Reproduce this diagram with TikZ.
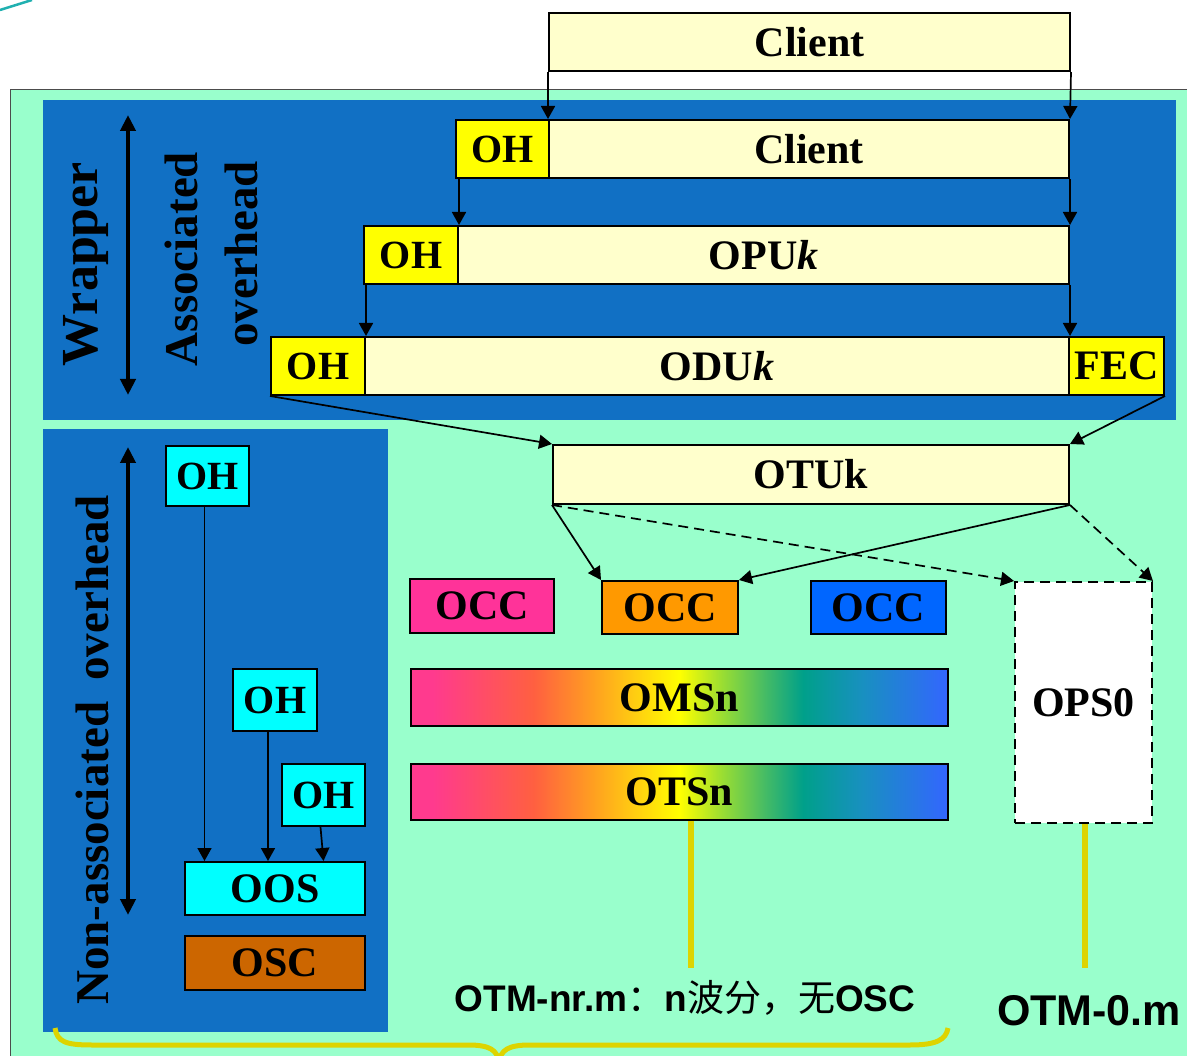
\documentclass[tikz,border=0pt]{standalone}
\usepackage{fontspec}
\setmainfont{Liberation Serif}
\newfontfamily\sansf{Liberation Sans}
\newfontfamily\cjk{Noto Sans CJK SC}
\usetikzlibrary{arrows.meta}
\definecolor{bgblue}{HTML}{1170C4}
\definecolor{bggreen}{HTML}{99FFCC}
\definecolor{lyellow}{HTML}{FFFFCC}
\definecolor{yel}{HTML}{FFFF00}
\definecolor{cyanb}{HTML}{00FFFF}
\definecolor{occpink}{HTML}{FF3399}
\definecolor{occorange}{HTML}{FF9900}
\definecolor{occblue}{HTML}{0066FF}
\definecolor{oscbrown}{HTML}{CC6600}
\definecolor{lineyel}{HTML}{DDD400}
\definecolor{tealline}{HTML}{20B0B0}
\definecolor{gA}{HTML}{FF3A8E}
\definecolor{gB}{HTML}{FF6040}
\definecolor{gC}{HTML}{FFA020}
\definecolor{gD}{HTML}{FFFF00}
\definecolor{gE}{HTML}{99DD33}
\definecolor{gF}{HTML}{44BB66}
\definecolor{gG}{HTML}{00A08A}
\definecolor{gH}{HTML}{1890C0}
\definecolor{gI}{HTML}{3366FF}
\pgfdeclarehorizontalshading{rainbow}{100bp}{color(0bp)=(gA); color(27bp)=(gA); color(36.5bp)=(gB); color(42bp)=(gC); color(50bp)=(gD); color(54bp)=(gE); color(58bp)=(gF); color(61.5bp)=(gG); color(67bp)=(gH); color(75bp)=(gI); color(100bp)=(gI)}
\tikzset{
  box/.style={draw=black, line width=2pt, inner sep=0pt, anchor=north west,
    font=\bfseries\fontsize{42}{42}\selectfont},
  ohfont/.style={font=\bfseries\fontsize{40}{40}\selectfont},
  conn/.style={line width=1.7pt, -{Triangle[length=13pt,width=14pt]}},
  dconn/.style={conn, dash pattern=on 10pt off 6pt},
  dbl/.style={line width=4pt, {Triangle[length=16pt,width=15pt]}-{Triangle[length=16pt,width=15pt]}},
  vlabel/.style={rotate=90, anchor=base, inner sep=0pt, font=\bfseries\fontsize{47}{47}\selectfont},
  yline/.style={draw=lineyel, line width=6pt},
}
\begin{document}
\begin{tikzpicture}[x=1pt,y=-1pt]
\useasboundingbox (0,0) rectangle (1187,1056);
\clip (0,0) rectangle (1187,1056);
\fill[white] (0,0) rectangle (1187,1056);
\draw[tealline, line width=2.5pt] (0,10) -- (32,0);
% backgrounds
\draw[fill=bggreen, draw=black!70, line width=1pt] (10,90) rectangle (1200,1070);
\fill[bgblue] (43,100) rectangle (1176,420);
\fill[bgblue] (43,429) rectangle (388,1032);
% wrapper rows
\node[box, fill=lyellow, minimum width=521pt, minimum height=58pt] (client0) at (548,12) {Client};
\node[box, fill=yel, ohfont, minimum width=93pt, minimum height=58pt] (oh1) at (455,119) {OH};
\node[box, fill=lyellow, minimum width=520pt, minimum height=58pt] (client1) at (548,119) {Client};
\node[box, fill=yel, ohfont, minimum width=94pt, minimum height=58pt] (oh2) at (363,225) {OH};
\node[box, fill=lyellow, minimum width=611pt, minimum height=58pt] (opu) at (457,225) {OPU\textit{k}};
\node[box, fill=yel, ohfont, minimum width=94pt, minimum height=58pt] (oh3) at (270,336) {OH};
\node[box, fill=lyellow, minimum width=704pt, minimum height=58pt] (odu) at (364,336) {ODU\textit{k}};
\node[box, fill=yel, minimum width=95pt, minimum height=58pt] (fec) at (1068,336) {FEC};
\node[box, fill=lyellow, minimum width=516pt, minimum height=59pt] (otu) at (552,444) {OTUk};
% OCCs
\node[box, fill=occpink, minimum width=144pt, minimum height=54pt] (occ1) at (409,578) {OCC};
\node[box, fill=occorange, minimum width=136pt, minimum height=53pt] (occ2) at (601,580) {OCC};
\node[box, fill=occblue, minimum width=135pt, minimum height=53pt] (occ3) at (810,580) {OCC};
\node[box, fill=white, dash pattern=on 10pt off 6pt, minimum width=137pt, minimum height=241pt] (ops) at (1014,581) {OPS0};
\node[box, shade, shading=rainbow, minimum width=537pt, minimum height=57pt] (omsn) at (410,668) {OMSn};
\node[box, shade, shading=rainbow, minimum width=537pt, minimum height=56pt] (otsn) at (410,763) {OTSn};
% non-associated
\node[box, fill=cyanb, ohfont, minimum width=83pt, minimum height=60pt] (ohA) at (165,445) {OH};
\node[box, fill=cyanb, ohfont, minimum width=84pt, minimum height=62pt] (ohB) at (232,668) {OH};
\node[box, fill=cyanb, ohfont, minimum width=83pt, minimum height=62pt] (ohC) at (281,763) {OH};
\node[box, fill=cyanb, minimum width=180pt, minimum height=53pt] (oos) at (184,861) {OOS};
\node[box, fill=oscbrown, minimum width=180pt, minimum height=54pt] (osc) at (184,935) {OSC};
% side labels
\node[vlabel, font=\bfseries\fontsize{52}{52}\selectfont] (wrap) at (97,264) {Wrapper};
\node[vlabel] (assoc1) at (197,259) {Associated};
\node[vlabel] (assoc2) at (257,254) {overhead};
\node[vlabel] (nonassoc) at (108,750) {Non-associated\hspace{0.45em}overhead};
\coordinate (wa1) at (128,115);
\coordinate (wa2) at (128,395);
\draw[dbl] (wa1) -- (wa2);
\coordinate (na1) at (128,447);
\coordinate (na2) at (128,915);
\draw[dbl] (na1) -- (na2);
% connectors in wrapper
\draw[conn] (client0.south west) -- (client1.north west);
\draw[conn] (client0.south east) -- (client1.north east);
\draw[conn] (oh2.north east |- oh1.south) -- (oh2.north east);
\draw[conn] (client1.south east) -- (opu.north east);
\draw[conn] (oh3.north east |- oh2.south) -- (oh3.north east);
\draw[conn] (opu.south east) -- (odu.north east);
\draw[conn] (oh3.south west) -- (otu.north west);
\draw[conn] (fec.south east) -- (otu.north east);
% from OTUk
\draw[conn] (otu.south west) -- (occ2.north west);
\draw[conn] (otu.south east) -- (occ2.north east);
\draw[dconn] (otu.south west) -- (ops.north west);
\draw[dconn] (otu.south east) -- (ops.north east);
% OH to OOS
\draw[conn] ([xshift=-3pt]ohA.south) -- ([xshift=-3pt]ohA.south |- oos.north);
\draw[conn] ([xshift=-7pt]ohB.south) -- ([xshift=-7pt]ohB.south |- oos.north);
\draw[conn] ([xshift=-3pt]ohC.south) -- (oos.north -| ohC.south);
% yellow lines and labels
\coordinate (ya) at (691,968);
\coordinate (yb) at (1085,968);
\draw[yline] (ya |- otsn.south) -- (ya);
\draw[yline] (yb |- ops.south) -- (yb);
\node[anchor=base, inner sep=0pt, font=\sansf\bfseries\fontsize{37}{37}\selectfont] (otmn) at (685,1011) {OTM-nr.m{\cjk\mdseries ：}n{\cjk\mdseries 波分，无}OSC};
\node[anchor=base, inner sep=0pt, font=\sansf\bfseries\fontsize{43}{43}\selectfont] (otm0) at (1089,1025) {OTM-0.m};
% brace
\draw[lineyel, line width=5pt] (55,1028) .. controls (57,1042) and (66,1045) .. (92,1045) -- (468,1045) .. controls (490,1045) and (497,1050) .. (499,1062) .. controls (501,1050) and (508,1045) .. (530,1045) -- (910,1045) .. controls (936,1045) and (946,1040) .. (948,1028);
\end{tikzpicture}
\end{document}
